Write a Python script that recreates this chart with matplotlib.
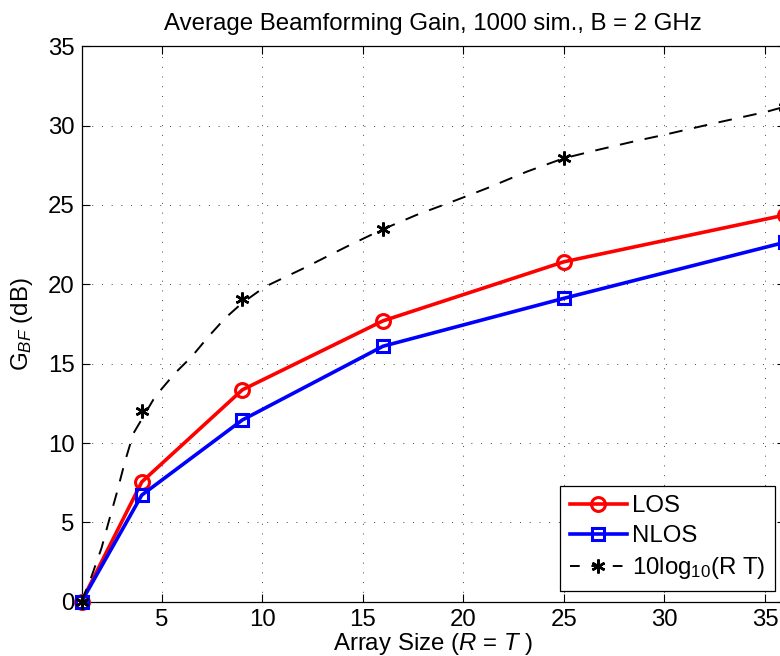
import matplotlib
matplotlib.use("Agg")
import matplotlib.pyplot as plt

plt.rcParams['font.family'] = ['Liberation Sans', 'DejaVu Sans']
plt.rcParams['mathtext.fontset'] = 'custom'
plt.rcParams['mathtext.rm'] = 'Liberation Sans'
plt.rcParams['mathtext.it'] = 'Liberation Sans:italic'

# Data
array_size = [1, 4, 9, 16, 25, 36]
los = [0.0, 7.55, 13.35, 17.7, 21.42, 24.37]
nlos = [0.0, 6.72, 11.45, 16.1, 19.12, 22.65]
ref_star_y = [0.0, 12.0, 19.05, 23.47, 27.95, 31.2]

# dashed reference curve
ref_curve_x = [1.0, 1.5, 2.0, 2.33, 2.75, 3.16, 3.58, 4.66, 5.65, 6.48, 7.31, 8.14,
               8.97, 10.13, 12.03, 14.18, 15.97, 17.66, 19.65, 21.16, 23.15,
               24.98, 26.64, 28.63, 29.95, 32.44, 35.09, 36.0]
ref_curve_y = [0.0, 1.6, 3.4, 4.94, 6.83, 8.82, 10.6, 12.92, 14.4, 15.44, 16.7, 17.86,
               18.8, 19.85, 21.0, 22.37, 23.46, 24.37, 25.31, 26.05, 27.1,
               27.94, 28.46, 29.05, 29.41, 30.14, 30.88, 31.2]

xticks = [5, 10, 15, 20, 25, 30, 35]
yticks = [0, 5, 10, 15, 20, 25, 30, 35]

fig = plt.figure(figsize=(7.8, 6.56), dpi=100)
ax = fig.add_axes([0.1045, 0.0828, 0.902, 0.8466])

FS = 17.3

l_los, = ax.plot(array_size, los, color='red', lw=2.6, marker='o', ms=10,
                 mfc='none', mec='red', mew=2.2, clip_on=False, zorder=3)
l_nlos, = ax.plot(array_size, nlos, color='blue', lw=2.6, marker='s', ms=9,
                  mfc='none', mec='blue', mew=2.2, clip_on=False, zorder=4)
ax.plot(ref_curve_x, ref_curve_y, color='black', lw=1.4, ls='--',
        dashes=(7, 6), zorder=5)
ax.plot(array_size, ref_star_y, ls='none', marker=(6, 2, 0), ms=10,
        mec='black', mew=1.8, clip_on=False, zorder=6)
h_ref, = ax.plot([], [], color='black', lw=1.4, ls='--', dashes=(5, 6),
                 marker=(6, 2, 0), ms=10, mec='black', mew=1.8)

ax.set_xlim(1, 36)
ax.set_ylim(0, 35)
ax.set_xticks(xticks)
ax.set_yticks(yticks)
ax.tick_params(direction='in', length=6, width=0.8, top=True, right=True,
               labelsize=FS, pad=5)
for s in ax.spines.values():
    s.set_linewidth(0.9)
ax.grid(True, color='#444444', lw=0.7, ls=(0, (1, 9)))

ax.set_title('Average Beamforming Gain, 1000 sim., B = 2 GHz', fontsize=FS, pad=12)
ax.set_xlabel(r'Array Size ($\mathit{R}$ = $\mathit{T}$ )', fontsize=FS, labelpad=0)
ax.set_ylabel(r'G$_{\mathit{BF}}$ (dB)', fontsize=FS, labelpad=9)

leg = ax.legend([l_los, l_nlos, h_ref], ['LOS', 'NLOS', r'10log$_{10}$(R T)'],
                loc='lower right', bbox_to_anchor=(0.9858, 0.0193),
                borderaxespad=0, fontsize=FS, fancybox=False, framealpha=1,
                edgecolor='black', handlelength=2.4, handletextpad=0.2,
                labelspacing=0.33, borderpad=0.4)
leg.get_frame().set_linewidth(0.9)

fig.savefig('out.png', dpi=100)
